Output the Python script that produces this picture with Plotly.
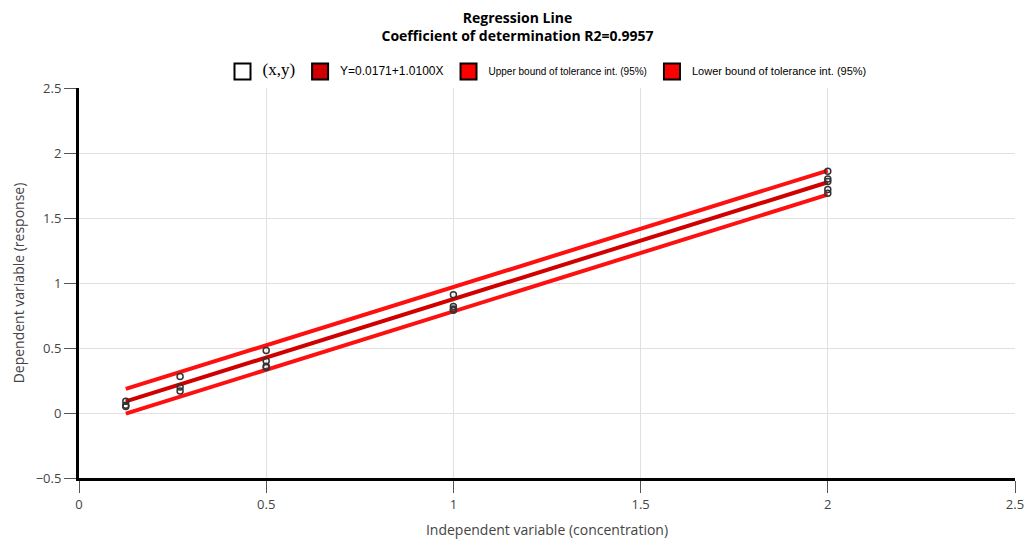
import plotly.graph_objects as go

# Observed data (concentration, response)
x_obs = [0.125, 0.125, 0.125, 0.27, 0.27, 0.27, 0.5, 0.5, 0.5, 0.5, 1, 1, 1, 1, 2, 2, 2, 2, 2]
y_obs = [0.09, 0.06, 0.05, 0.28, 0.20, 0.17, 0.48, 0.40, 0.36, 0.35, 0.91, 0.82, 0.80, 0.79, 1.86, 1.80, 1.78, 1.72, 1.69]

# Regression line and tolerance bounds (end points)
x_line = [0.125, 2]
y_fit = [0.09, 1.775]
y_upper = [0.185, 1.865]
y_lower = [-0.005, 1.68]

fit_name = "Y=0.0171+1.0100X"
upper_name = "Upper bound of tolerance int. (95%)"
lower_name = "Lower bound of tolerance int. (95%)"

W, H = 1019, 531

fig = go.Figure()

fig.add_trace(go.Scatter(x=x_line, y=y_upper, mode="lines", line=dict(color="#ff1010", width=4), showlegend=False))
fig.add_trace(go.Scatter(x=x_line, y=y_lower, mode="lines", line=dict(color="#ff1010", width=4), showlegend=False))
fig.add_trace(go.Scatter(x=x_line, y=y_fit, mode="lines", line=dict(color="#d00000", width=4), showlegend=False))
fig.add_trace(go.Scatter(x=x_obs, y=y_obs, mode="markers",
                         marker=dict(symbol="circle-open", size=6, color="#333333", line=dict(width=1.5)),
                         showlegend=False))

# legend entries
def leg(name, fill, size, family="Liberation Sans"):
    fig.add_trace(go.Scatter(x=[None], y=[None], mode="markers",
                             name='<span style="font-family:%s;font-size:%dpx">%s</span>' % (family, size, name),
                             marker=dict(symbol="square", size=16, color=fill, line=dict(color="black", width=2))))

leg("(x,y)", "white", 17, "Liberation Serif")
leg(fit_name, "#d00000", 12)
leg(upper_name, "#ff0000", 10)
leg(lower_name, "#ff0000", 11)

fig.update_layout(
    width=W, height=H,
    margin=dict(l=71, r=12, t=80, b=61, autoexpand=False),
    paper_bgcolor="white", plot_bgcolor="white",
    font=dict(family="Open Sans", color="#444444", size=13),
    title=dict(text="<b>Regression Line<br>Coefficient of determination R2=0.9957</b>",
               x=0.5, xanchor="center", y=1 - 15 / H, yanchor="top", yref="container",
               font=dict(size=14, color="black", family="Open Sans")),
    legend=dict(orientation="h", x=0.5, xanchor="center", y=1 + 2 / 390, yanchor="bottom",
                font=dict(size=10, color="black", family="Liberation Sans"),
                itemwidth=30, tracegroupgap=0),
    xaxis=dict(range=[0, 2.5], tickvals=[0, 0.5, 1, 1.5, 2, 2.5], showgrid=True, gridcolor="#e0e0e0",
               zeroline=False, showline=True, linecolor="black", linewidth=3, automargin=False,
               ticks="outside", ticklen=12, tickcolor="#555", tickfont=dict(size=13),
               ticklabeloverflow="allow",
               title=dict(text="Independent variable (concentration)", font=dict(size=14), standoff=25)),
    yaxis=dict(range=[-0.5, 2.5], tickvals=[-0.5, 0, 0.5, 1, 1.5, 2, 2.5], showgrid=True, gridcolor="#e0e0e0",
               zeroline=False, showline=True, linecolor="black", linewidth=3, automargin=False,
               ticks="outside", ticklen=12, tickcolor="#555", tickfont=dict(size=13),
               title=dict(text="Dependent variable (response)", font=dict(size=14), standoff=8)),
)

fig.write_html("out.html")
